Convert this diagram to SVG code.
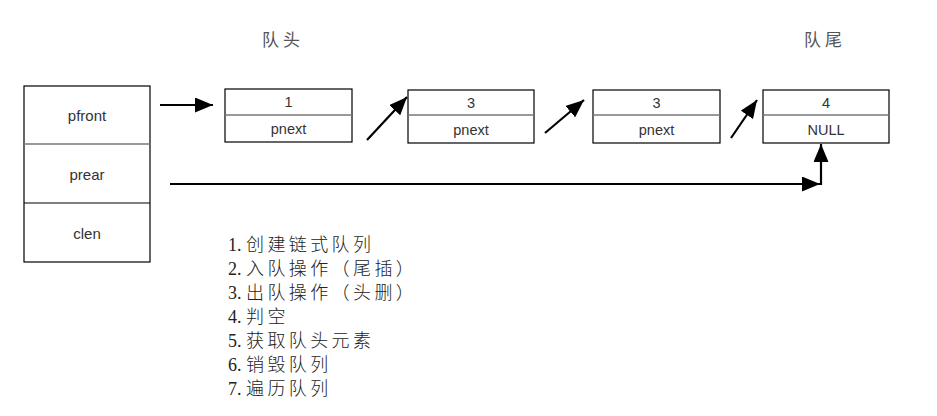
<svg xmlns="http://www.w3.org/2000/svg" width="937" height="416" viewBox="0 0 937 416">
<style>
.box{fill:#fff;stroke:#000;stroke-width:1.2}
.div{stroke:#777;stroke-width:1.5}
.div2{stroke:#000;stroke-width:1.2}
.t{font-family:"Liberation Sans",Arial,sans-serif;font-size:15px;fill:#333;text-anchor:middle}
.nt{font-family:"Liberation Sans",Arial,sans-serif;font-size:14.5px;fill:#333;text-anchor:middle}
.lbl{font-family:"Liberation Serif","Noto Sans CJK SC",serif;font-size:17px;fill:#555;letter-spacing:4px}
.lst{font-family:"Liberation Serif","Noto Sans CJK SC",serif;font-size:18px;fill:#222}
.cj{letter-spacing:3.4px;font-weight:300}
.ar{stroke:#000;stroke-width:2.2;fill:none}
</style>
<defs>
<marker id="ahb" viewBox="0 0 10 10" refX="10" refY="5" markerWidth="18" markerHeight="15" markerUnits="userSpaceOnUse" orient="auto" preserveAspectRatio="none">
<path d="M0,0 L10,5 L0,10 z" fill="#000"/>
</marker>
</defs>
<rect width="937" height="416" fill="#fff"/>
<g id="queue">
<rect class="box" x="24" y="86" width="126" height="176"/>
<line class="div" x1="24" y1="144" x2="150" y2="144"/>
<line class="div2" x1="24" y1="203" x2="150" y2="203"/>
<text class="t" x="87" y="121">pfront</text>
<text class="t" x="87" y="180">prear</text>
<text class="t" x="87" y="239">clen</text>
</g>
<g id="node1">
<rect class="box" x="225" y="89" width="127" height="53"/>
<line class="div" x1="225" y1="115" x2="352" y2="115"/>
<text class="nt" x="288.5" y="107">1</text>
<text class="nt" x="288.5" y="134">pnext</text>
</g>
<g id="node2">
<rect class="box" x="408" y="90" width="126" height="53"/>
<line class="div" x1="408" y1="115" x2="534" y2="115"/>
<text class="nt" x="471" y="108">3</text>
<text class="nt" x="471" y="135">pnext</text>
</g>
<g id="node3">
<rect class="box" x="593" y="90" width="127" height="53"/>
<line class="div" x1="593" y1="115" x2="720" y2="115"/>
<text class="nt" x="656.5" y="108">3</text>
<text class="nt" x="656.5" y="135">pnext</text>
</g>
<g id="node4">
<rect class="box" x="763" y="90" width="126" height="53"/>
<line class="div" x1="763" y1="115" x2="889" y2="115"/>
<text class="nt" x="826" y="108">4</text>
<text class="nt" x="826" y="135">NULL</text>
</g>
<g id="labels">
<text class="lbl" x="262" y="46">队头</text>
<text class="lbl" x="804" y="46">队尾</text>
</g>
<g id="ops">
<text class="lst" x="228" y="251">1. <tspan class="cj">创建链式队列</tspan></text>
<text class="lst" x="228" y="275">2. <tspan class="cj">入队操作（尾插）</tspan></text>
<text class="lst" x="228" y="299">3. <tspan class="cj">出队操作（头删）</tspan></text>
<text class="lst" x="228" y="323">4. <tspan class="cj">判空</tspan></text>
<text class="lst" x="228" y="347">5. <tspan class="cj">获取队头元素</tspan></text>
<text class="lst" x="228" y="371">6. <tspan class="cj">销毁队列</tspan></text>
<text class="lst" x="228" y="395">7. <tspan class="cj">遍历队列</tspan></text>
</g>
<g id="connectors">
<line class="ar" x1="160" y1="105" x2="213" y2="105" marker-end="url(#ahb)"/>
<line class="ar" x1="367" y1="140" x2="407" y2="97" marker-end="url(#ahb)"/>
<line class="ar" x1="545" y1="133" x2="584" y2="100" marker-end="url(#ahb)"/>
<line class="ar" x1="731" y1="138" x2="757" y2="100" marker-end="url(#ahb)"/>
<line class="ar" x1="170" y1="184" x2="820" y2="184" marker-end="url(#ahb)"/>
<line class="ar" x1="821" y1="185" x2="821" y2="144" marker-end="url(#ahb)"/>
</g>
</svg>
